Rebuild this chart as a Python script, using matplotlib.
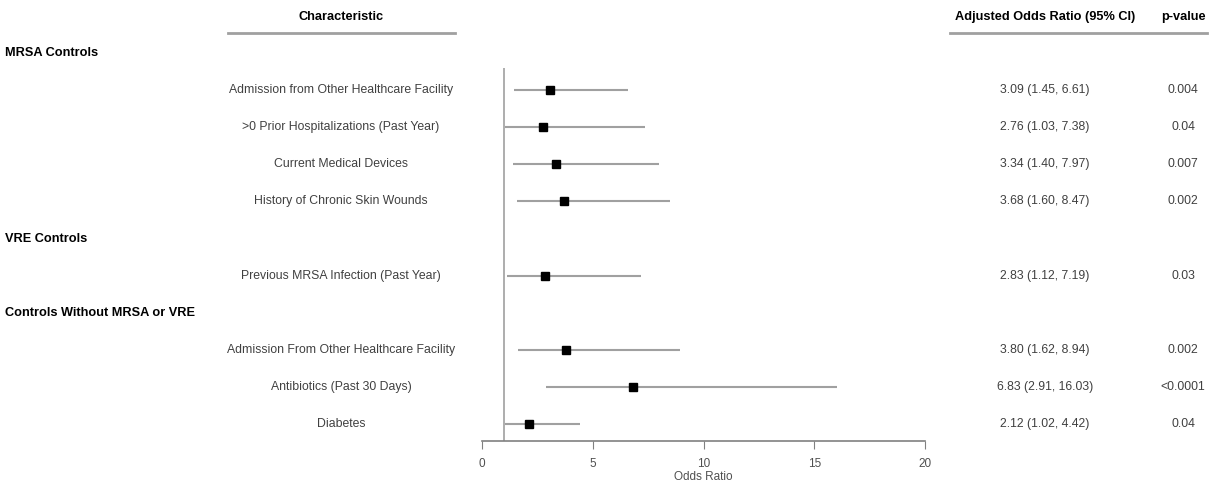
import matplotlib.pyplot as plt
import matplotlib.transforms as mtransforms

plt.rcParams['font.family'] = ['Liberation Sans', 'DejaVu Sans']

# Rows: group headers and characteristics, top to bottom
groups = ['MRSA Controls', 'VRE Controls', 'Controls Without MRSA or VRE']
group_rows = [0, 5, 7]

characteristics = ['Admission from Other Healthcare Facility',
                   '>0 Prior Hospitalizations (Past Year)',
                   'Current Medical Devices',
                   'History of Chronic Skin Wounds',
                   'Previous MRSA Infection (Past Year)',
                   'Admission From Other Healthcare Facility',
                   'Antibiotics (Past 30 Days)',
                   'Diabetes']
char_rows = [1, 2, 3, 4, 6, 8, 9, 10]

odds_ratio = [3.09, 2.76, 3.34, 3.68, 2.83, 3.80, 6.83, 2.12]
ci_low = [1.45, 1.03, 1.40, 1.60, 1.12, 1.62, 2.91, 1.02]
ci_high = [6.61, 7.38, 7.97, 8.47, 7.19, 8.94, 16.03, 4.42]
p_values = ['0.004', '0.04', '0.007', '0.002', '0.03', '0.002', '<0.0001', '0.04']

x_ticks = [0, 5, 10, 15, 20]

fig = plt.figure(figsize=(12.12, 4.86), dpi=100)
W, H = 1212, 486
# forest panel: OR 0 at px 482, OR 20 at px 925; full figure height
ax = fig.add_axes([482 / W, 0, (925 - 482) / W, 1])
ax.set_xlim(0, 20)
row0_px, row_step = 53, 37.1
ax.set_ylim((H - row0_px) / row_step, -row0_px / row_step)

# CIs and point estimates
ax.hlines(char_rows, ci_low, ci_high, color='#a0a0a0', lw=1.5, zorder=2)
ax.plot(odds_ratio, char_rows, 's', color='black', ms=5.5, zorder=3)

# reference line at OR = 1
ax_line_row = (441 - row0_px) / row_step
ax.vlines(1, 0.4, ax_line_row, color='#a0a0a0', lw=1.2, zorder=1)

for s in ['top', 'right', 'left']:
    ax.spines[s].set_visible(False)
ax.spines['bottom'].set_position(('data', ax_line_row))
ax.spines['bottom'].set_color('#808080')
ax.spines['bottom'].set_linewidth(1.2)
ax.set_yticks([])
ax.set_xticks(x_ticks)
ax.tick_params(axis='x', direction='out', length=6, color='#808080',
               labelsize=8.5, labelcolor='#505050', pad=6)
ax.text(10, (477 - row0_px) / row_step, 'Odds Ratio', ha='center',
        va='center', fontsize=8.5, color='#505050')

# text columns
tr = mtransforms.blended_transform_factory(fig.transFigure, ax.transData)
header_row = (17 - row0_px) / row_step
rule_row = (33 - row0_px) / row_step
fs = 8.8
fs_bold = 9.2

ax.text(341 / W, header_row, 'Characteristic', transform=tr, ha='center',
        va='center', fontsize=fs_bold, fontweight='bold', clip_on=False)
ax.text(1045 / W, header_row, 'Adjusted Odds Ratio (95% CI)', transform=tr,
        ha='center', va='center', fontsize=fs_bold, fontweight='bold',
        clip_on=False)
ax.text(1183 / W, header_row, 'p-value', transform=tr, ha='center',
        va='center', fontsize=fs_bold, fontweight='bold', clip_on=False)
ax.plot([228 / W, 455 / W], [rule_row, rule_row], transform=tr,
        color='#a0a0a0', lw=2, clip_on=False)
ax.plot([950 / W, 1207 / W], [rule_row, rule_row], transform=tr,
        color='#a0a0a0', lw=2, clip_on=False)

for g, r in zip(groups, group_rows):
    ax.text(5 / W, r, g, transform=tr, ha='left', va='center',
            fontsize=fs_bold, fontweight='bold', clip_on=False)

for i, r in enumerate(char_rows):
    ax.text(341 / W, r, characteristics[i], transform=tr, ha='center',
            va='center', fontsize=fs, color='#404040', clip_on=False)
    ci_txt = f'{odds_ratio[i]:.2f} ({ci_low[i]:.2f}, {ci_high[i]:.2f})'
    ax.text(1045 / W, r, ci_txt, transform=tr, ha='center', va='center',
            fontsize=fs, color='#404040', clip_on=False)
    ax.text(1183 / W, r, p_values[i], transform=tr, ha='center',
            va='center', fontsize=fs, color='#404040', clip_on=False)

fig.savefig('out.png', dpi=100)
